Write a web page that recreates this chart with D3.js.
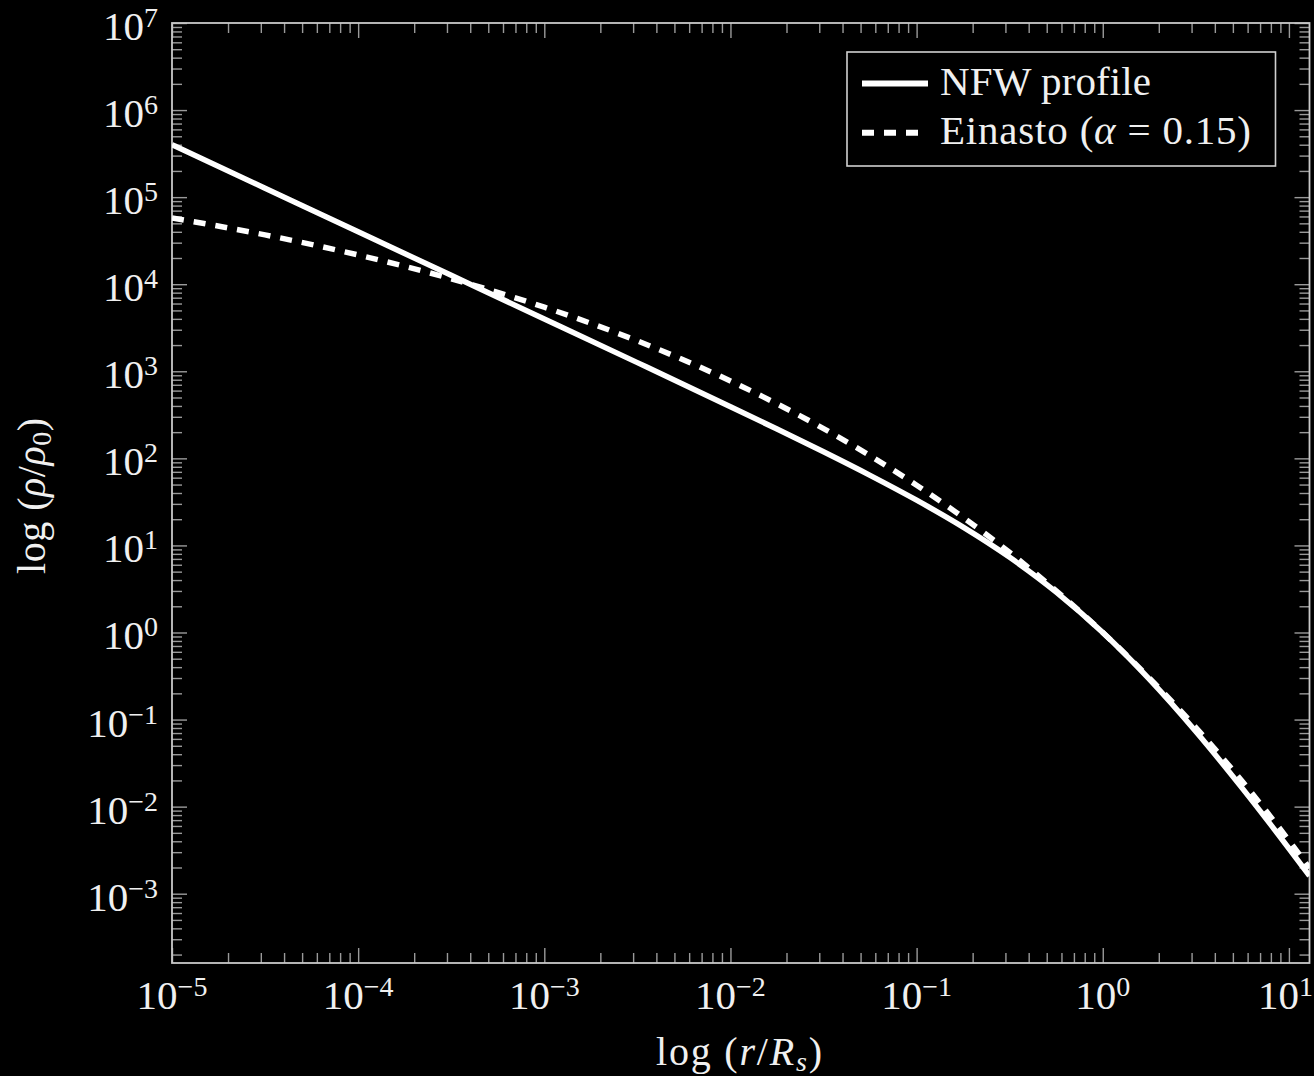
<!DOCTYPE html>
<html><head><meta charset="utf-8">
<script src="https://cdn.jsdelivr.net/npm/d3@7"></script>
<style>
html,body{margin:0;padding:0;background:#000;}
svg{display:block;background:#000;}
text{font-family:"Liberation Serif","Times New Roman",serif;fill:#f0f0f0;}
</style></head><body>
<svg id="chart" width="1314" height="1076"></svg>
<script>
// r / R_s sample positions read along the x axis
const radius = [1e-5, 3.162e-5, 1e-4, 3.162e-4, 1e-3, 3.162e-3, 1e-2, 1.778e-2, 3.162e-2, 5.623e-2,
                0.1, 0.1778, 0.3162, 0.5623, 1, 1.778, 3.162, 5.623, 10, 12.9];
// rho / rho_0
const nfwDensity = [4.0e5, 1.265e5, 4.0e4, 1.264e4, 3992, 1257, 392.1, 217.2, 118.9, 63.76,
                    33.06, 16.22, 7.302, 2.914, 1.0, 0.2915, 0.07303, 0.01622, 0.003306, 0.001605];
// rho / rho_0
const einastoDensity = [57640, 36860, 21680, 11530, 5445, 2232, 773.4, 423.3, 219.5, 107.2,
                        49.11, 20.96, 8.287, 3.013, 1.0, 0.3005, 0.08099, 0.01940, 0.004085, 0.001961];
const seriesNames = ["NFW profile", "Einasto"];
const xMajorTicks = [1e-5, 1e-4, 1e-3, 1e-2, 1e-1, 1e0, 1e1];
const xTickExponents = ["\u22125", "\u22124", "\u22123", "\u22122", "\u22121", "0", "1"];
const yMajorTicks = [1e-3, 1e-2, 1e-1, 1e0, 1e1, 1e2, 1e3, 1e4, 1e5, 1e6, 1e7];
const yTickExponents = ["\u22123", "\u22122", "\u22121", "0", "1", "2", "3", "4", "5", "6", "7"];

const svg = d3.select("#chart");
const P = {left: 172, right: 1309.5, top: 23, bottom: 963};
const x = d3.scaleLog().domain([1e-5, 12.9]).range([P.left, P.right]);
const y = d3.scaleLog().domain([1.6e-4, 1e7]).range([P.bottom, P.top]);

function minors(scale) {
  const [a, b] = scale.domain();
  const out = [];
  for (let k = Math.floor(Math.log10(a)); k <= Math.ceil(Math.log10(b)); k++) {
    for (let d = 2; d <= 9; d++) {
      const v = d * Math.pow(10, k);
      if (v >= a && v <= b) out.push(v);
    }
  }
  return out;
}
const xMinor = minors(x), yMinor = minors(y);

const tickColor = "#9a9a9a";
function styleAxis(g) {
  g.select(".domain").remove();
  g.selectAll(".tick line").attr("stroke", tickColor).attr("stroke-width", 1.4);
  g.selectAll(".tick text").remove();
}
const axisDefs = [
  [d3.axisBottom, x, `translate(0,${P.bottom})`, xMinor, xMajorTicks],
  [d3.axisTop, x, `translate(0,${P.top})`, xMinor, xMajorTicks],
  [d3.axisLeft, y, `translate(${P.left},0)`, yMinor, yMajorTicks],
  [d3.axisRight, y, `translate(${P.right},0)`, yMinor, yMajorTicks]
];
axisDefs.forEach(([fn, sc, tr, mn, mj]) => {
  svg.append("g").attr("transform", tr)
    .call(fn(sc).tickValues(mn).tickSize(-10).tickFormat(() => "")).call(styleAxis);
  svg.append("g").attr("transform", tr)
    .call(fn(sc).tickValues(mj).tickSize(-15).tickFormat(() => "")).call(styleAxis);
});

// frame
svg.append("rect").attr("x", P.left).attr("y", P.top)
  .attr("width", P.right - P.left).attr("height", P.bottom - P.top)
  .attr("fill", "none").attr("stroke", "#c8c8c8").attr("stroke-width", 1.8);

// tick labels
const lastX = xMajorTicks.length - 1;
const xl = svg.append("g").selectAll("text").data(xMajorTicks).join("text")
  .attr("x", (d, i) => i === lastX ? 1313 : x(d)).attr("y", 1009)
  .attr("text-anchor", (d, i) => i === lastX ? "end" : "middle").attr("font-size", 41);
xl.append("tspan").text("10");
xl.append("tspan").attr("dy", -13).attr("font-size", 28).text((d, i) => xTickExponents[i]);

const yl = svg.append("g").selectAll("text").data(yMajorTicks).join("text")
  .attr("x", 158).attr("y", d => y(d) + 17).attr("text-anchor", "end").attr("font-size", 41);
yl.append("tspan").text("10");
yl.append("tspan").attr("dy", -13).attr("font-size", 28).text((d, i) => yTickExponents[i]);

// curves
svg.append("clipPath").attr("id", "clip").append("rect")
  .attr("x", P.left).attr("y", P.top).attr("width", P.right - P.left).attr("height", P.bottom - P.top);
const line = d3.line().x(d => x(d[0])).y(d => y(d[1])).curve(d3.curveMonotoneX);
const plot = svg.append("g").attr("clip-path", "url(#clip)");
plot.append("path").datum(radius.map((r, i) => [r, einastoDensity[i]]))
  .attr("d", line).attr("fill", "none").attr("stroke", "#fff").attr("stroke-width", 5.5)
  .attr("stroke-dasharray", "12,10");
plot.append("path").datum(radius.map((r, i) => [r, nfwDensity[i]]))
  .attr("d", line).attr("fill", "none").attr("stroke", "#fff").attr("stroke-width", 5.5);

// legend
const lg = svg.append("g");
lg.append("rect").attr("x", 847).attr("y", 52).attr("width", 428.5).attr("height", 114)
  .attr("fill", "#000").attr("stroke", "#d0d0d0").attr("stroke-width", 1.6);
lg.append("line").attr("x1", 862).attr("x2", 928).attr("y1", 83.5).attr("y2", 83.5)
  .attr("stroke", "#fff").attr("stroke-width", 6);
lg.append("line").attr("x1", 862).attr("x2", 928).attr("y1", 132.7).attr("y2", 132.7)
  .attr("stroke", "#fff").attr("stroke-width", 6).attr("stroke-dasharray", "12,10");
lg.append("text").attr("x", 940).attr("y", 95).attr("font-size", 41)
  .attr("textLength", 211).attr("lengthAdjust", "spacing").text(seriesNames[0]);
const et = lg.append("text").attr("x", 940).attr("y", 144).attr("font-size", 41)
  .attr("textLength", 311).attr("lengthAdjust", "spacing");
et.append("tspan").text(seriesNames[1] + " (");
et.append("tspan").attr("font-style", "italic").text("\u03b1");
et.append("tspan").text(" = 0.15)");

// axis labels
const xt = svg.append("text").attr("x", 739).attr("y", 1065).attr("text-anchor", "middle")
  .attr("font-size", 40).attr("textLength", 166).attr("lengthAdjust", "spacing");
xt.append("tspan").text("log (");
xt.append("tspan").attr("font-style", "italic").text("r");
xt.append("tspan").text("/");
xt.append("tspan").attr("font-style", "italic").text("R");
xt.append("tspan").attr("font-style", "italic").attr("font-size", 28).attr("dy", 6).text("s");
xt.append("tspan").attr("dy", -6).text(")");

const yt = svg.append("text").attr("transform", "translate(45,496) rotate(-90)")
  .attr("text-anchor", "middle").attr("font-size", 40)
  .attr("textLength", 156).attr("lengthAdjust", "spacing");
yt.append("tspan").text("log (");
yt.append("tspan").attr("font-style", "italic").text("\u03c1");
yt.append("tspan").text("/");
yt.append("tspan").attr("font-style", "italic").text("\u03c1");
yt.append("tspan").attr("font-size", 28).attr("dy", 6).text("0");
yt.append("tspan").attr("dy", -6).text(")");
</script>
</body></html>
